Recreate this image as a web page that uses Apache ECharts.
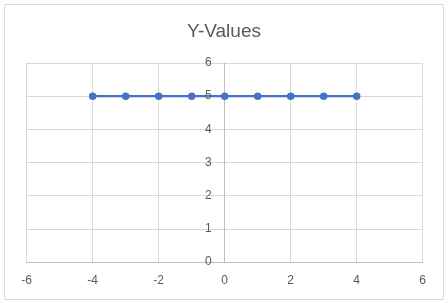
<!DOCTYPE html>
<html><head><meta charset="utf-8">
<script src="https://cdn.jsdelivr.net/npm/echarts@6/dist/echarts.min.js"></script>
<style>html,body{margin:0;padding:0;background:#fff}#c{width:448px;height:303px}</style>
</head><body><div id="c"></div>
<script>
const titleText = "Y-Values";
const xValues = [-4, -3, -2, -1, 0, 1, 2, 3, 4];
const yValues = [5, 5, 5, 5, 5, 5, 5, 5, 5];
const xTicks = { min: -6, max: 6, interval: 2 };
const yTicks = { min: 0, max: 6, interval: 1 };

const gridLeft = 26.7, gridRight = 25.3, W = 448;
const plotW = W - gridLeft - gridRight;
const zeroOffset = -plotW * (0 - xTicks.min) / (xTicks.max - xTicks.min);

const chart = echarts.init(document.getElementById('c'), null, {renderer: 'canvas'});
const font = "Liberation Sans, Arial, sans-serif";
chart.setOption({
  animation: false,
  backgroundColor: '#fff',
  title: { text: titleText, left: 'center', top: 17,
    textStyle: { fontFamily: font, fontSize: 19, fontWeight: 'normal', color: '#595959' } },
  graphic: [{ type: 'rect', shape: { x: 4.5, y: 4.5, width: 439, height: 295 },
    style: { fill: 'none', stroke: '#d9d9d9', lineWidth: 1 }, silent: true, z: -1 }],
  grid: { left: gridLeft, right: gridRight, top: 63, bottom: 41 },
  xAxis: { type: 'value', min: xTicks.min, max: xTicks.max, interval: xTicks.interval,
    axisLine: { show: true, onZero: false, lineStyle: { color: '#bfbfbf', width: 1 } },
    axisTick: { show: false },
    splitLine: { show: true, lineStyle: { color: '#d9d9d9', width: 1 } },
    axisLabel: { margin: 13, fontFamily: font, fontSize: 12, color: '#595959' } },
  yAxis: { type: 'value', min: yTicks.min, max: yTicks.max, interval: yTicks.interval,
    position: 'left', offset: zeroOffset,
    axisLine: { show: true, onZero: false, lineStyle: { color: '#bfbfbf', width: 1 } },
    axisTick: { show: false },
    splitLine: { show: true, lineStyle: { color: '#d9d9d9', width: 1 } },
    axisLabel: { margin: 13, fontFamily: font, fontSize: 12, color: '#595959' } },
  series: [{ type: 'line', data: xValues.map((x, i) => [x, yValues[i]]),
    symbol: 'circle', symbolSize: 7.5,
    lineStyle: { color: '#4472C4', width: 2.25 },
    itemStyle: { color: '#4472C4' } }]
});
</script></body></html>
